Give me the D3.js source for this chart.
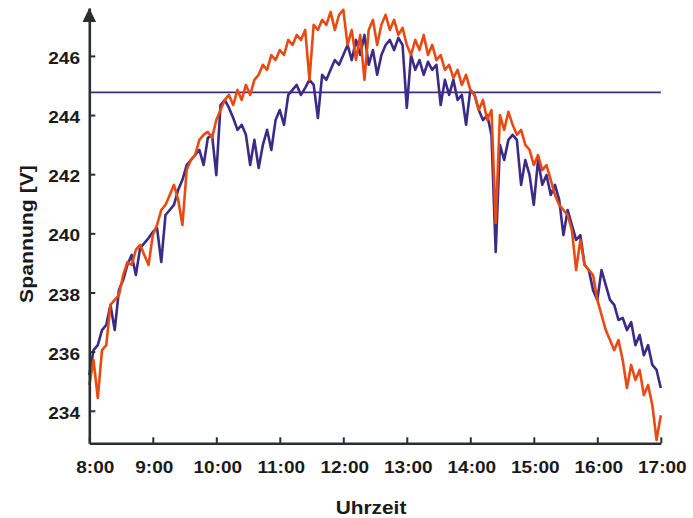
<!DOCTYPE html>
<html><head><meta charset="utf-8">
<script src="https://cdn.jsdelivr.net/npm/d3@7"></script>
<style>
html,body{margin:0;padding:0;background:#fff;}
svg{display:block;}
text{font-family:"Liberation Sans",Arial,Helvetica,sans-serif;font-weight:bold;fill:#1a1a1a;}
</style></head>
<body>
<svg id="c" width="693" height="518"></svg>
<script>
// sampling times in minutes after 8:00
const sampleMinutes = [0,4,8,12,16,20,24,28,32,36,40,44,48,52,56,60,64,68,72,76,80,84,88,92,96,100,104,108,112,116,120,124,128,132,136,140,144,148,152,156,160,164,168,172,176,180,184,188,192,196,200,204,208,212,216,220,224,228,232,236,240,244,248,252,256,260,264,268,272,276,280,284,288,292,296,300,304,308,312,316,320,324,328,332,336,340,344,348,352,356,360,364,368,372,376,380,384,388,392,396,400,404,408,412,416,420,424,428,432,436,440,444,448,452,456,460,464,468,472,476,480,484,488,492,496,500,504,508,512,516,520,524,528,532,536,540];

const purpleVoltage = [235.21,236.05,236.22,236.73,236.90,237.58,236.73,238.08,238.42,238.93,239.27,238.59,239.50,239.67,239.84,240.05,240.18,239.03,240.62,240.79,240.96,241.47,241.81,242.31,242.48,242.65,242.82,242.31,243.23,243.33,241.97,244.34,244.51,244.24,243.90,243.50,243.67,243.33,242.31,243.16,242.21,242.99,243.50,242.82,243.83,244.17,243.67,244.68,244.85,245.02,244.68,244.92,245.19,245.02,243.90,245.36,245.19,245.53,245.86,245.70,246.03,246.37,245.86,246.54,246.03,246.71,245.70,246.20,245.36,246.03,246.37,246.54,246.20,246.61,246.37,244.24,246.03,245.53,245.86,245.36,245.80,245.53,245.70,244.34,245.19,244.68,245.19,244.51,244.68,243.67,244.85,244.68,244.17,243.83,244.00,243.33,239.37,242.99,242.48,243.16,243.33,243.16,241.64,242.48,241.97,240.96,242.48,241.64,241.97,241.30,241.64,241.13,239.94,240.79,240.28,239.78,239.94,238.93,238.76,238.08,237.75,238.76,238.25,237.75,237.58,237.07,237.14,236.73,237.00,236.22,236.56,235.88,236.22,235.55,235.38,234.77];

const orangeVoltage = [234.87,235.72,234.43,236.05,236.22,237.58,237.75,237.91,238.59,239.03,238.93,239.44,239.61,239.27,238.93,239.94,240.28,240.79,240.96,241.30,241.64,241.13,240.28,242.14,242.48,242.65,243.16,243.33,243.43,243.23,243.83,244.17,244.51,244.68,244.34,244.85,244.51,245.02,244.68,245.19,245.36,245.70,245.53,246.03,245.86,246.20,246.03,246.54,246.37,246.71,246.54,246.88,245.19,247.05,246.88,247.22,247.05,247.49,246.88,247.39,247.56,246.37,246.88,245.86,246.71,245.19,246.88,247.22,246.37,247.05,247.39,246.88,247.22,246.71,246.95,246.37,246.03,246.54,246.20,246.71,246.03,246.37,245.86,246.03,245.53,245.70,245.26,245.53,245.02,245.36,244.85,244.68,244.17,244.51,243.83,244.17,240.35,244.00,243.50,244.11,243.67,243.33,243.50,242.99,242.82,242.31,242.65,242.14,242.31,241.81,241.30,240.96,240.79,240.62,240.11,238.76,239.78,238.93,238.76,238.59,237.75,237.24,236.73,236.39,236.05,236.39,235.72,234.77,235.55,235.04,235.38,234.53,234.87,234.19,233.01,233.85];

const limitVoltage = 244.77;

const xTickMinutes = [0,60,120,180,240,300,360,420,480,540];
const xTickLabels = ["8:00","9:00","10:00","11:00","12:00","13:00","14:00","15:00","16:00","17:00"];
const yTickValues = [234,236,238,240,242,244,246];

const xAxisTitle = "Uhrzeit";
const yAxisTitle = "Spannung [V]";

const PURPLE = "#3b2a86";
const ORANGE = "#e84a12";
const AXIS = "#2a2e31";
const STRETCH = 1.16;

const svg = d3.select("#c");
const x = d3.scaleLinear().domain([0, 540]).range([89.3, 660.8]);
const y = d3.scaleLinear().domain([232.9, 247.62]).range([443.3, 8]);

// limit line
svg.append("line")
  .attr("x1", x(0)).attr("x2", x(540))
  .attr("y1", y(limitVoltage)).attr("y2", y(limitVoltage))
  .attr("stroke", PURPLE).attr("stroke-width", 1.7);

const line = d3.line()
  .x((d, i) => x(sampleMinutes[i]))
  .y(d => y(d))
  .curve(d3.curveLinear);

svg.append("path").datum(purpleVoltage)
  .attr("d", line).attr("fill", "none")
  .attr("stroke", PURPLE).attr("stroke-width", 2.6).attr("stroke-linejoin", "round");
svg.append("path").datum(orangeVoltage)
  .attr("d", line).attr("fill", "none")
  .attr("stroke", ORANGE).attr("stroke-width", 2.6).attr("stroke-linejoin", "round");

// axes
const xAxis = d3.axisBottom(x).tickValues(xTickMinutes)
  .tickFormat((d, i) => xTickLabels[i]).tickSize(-6).tickSizeOuter(0);
const gx = svg.append("g").attr("transform", `translate(0,${y(232.9)})`).call(xAxis);
gx.select(".domain").attr("stroke", AXIS).attr("stroke-width", 2.6);
gx.selectAll(".tick line").attr("stroke", AXIS).attr("stroke-width", 2);
gx.selectAll(".tick text")
  .attr("y", 0).attr("dy", 0)
  .attr("font-size", 16.4)
  .attr("fill", "#1a1a1a")
  .attr("transform", (d, i) => `translate(${i === 0 ? 5.5 : 1},29.8) scale(${STRETCH},1)`);

const yAxis = d3.axisLeft(y).tickValues(yTickValues).tickSize(-6).tickSizeOuter(0);
const gy = svg.append("g").attr("transform", `translate(${x(0)},0)`).call(yAxis);
gy.select(".domain").attr("stroke", AXIS).attr("stroke-width", 2.6);
gy.selectAll(".tick line").attr("stroke", AXIS).attr("stroke-width", 2);
gy.selectAll(".tick text")
  .attr("x", 0).attr("dy", 0)
  .attr("font-size", 16.4)
  .attr("fill", "#1a1a1a")
  .attr("transform", `translate(-9.3,7.6) scale(${STRETCH},1)`);

// arrow head on y axis
const ax = x(0), ay = y(247.62);
svg.append("path")
  .attr("d", `M${ax},${ay} L${ax - 6.8},${ay + 14} L${ax + 6.8},${ay + 14} Z`)
  .attr("fill", AXIS);

// axis titles
svg.append("g").attr("transform", `translate(371,514)`)
  .append("text").attr("text-anchor", "middle").attr("font-size", 18)
  .attr("transform", `scale(${STRETCH},1)`).text(xAxisTitle);
svg.append("g").attr("transform", `translate(33,234) rotate(-90)`)
  .append("text").attr("text-anchor", "middle").attr("font-size", 18.3)
  .attr("transform", `scale(${STRETCH},1)`).text(yAxisTitle);
</script>
</body></html>
